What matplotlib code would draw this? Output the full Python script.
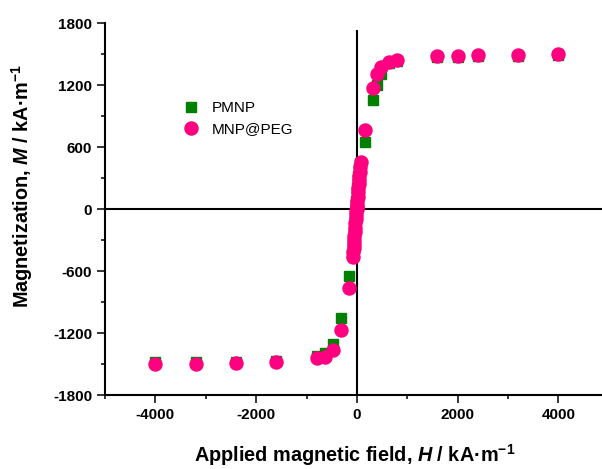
import matplotlib
matplotlib.use('Agg')
import matplotlib.pyplot as plt
from matplotlib.ticker import MultipleLocator

# 数据 (H / kA·m-1, M / kA·m-1)
H_pmnp = [-4000, -3200, -2400, -1600, -800, -640, -480, -320, -160,
          -90, -83, -76, -70, -63, -57, -51, -45, -39, -32, -26, -20, -14, -8, -2, 4, 10, 16, 23, 30, 37, 45, 54, 62,
          160, 320, 400, 480, 640, 800, 1600, 2000, 2400, 3200, 4000]
M_pmnp = [-1485, -1483, -1480, -1470, -1422, -1397, -1306, -1052, -645,
          -440, -400, -360, -320, -280, -240, -200, -160, -120, -80, -40, 0, 40, 80, 120, 160, 200, 240, 280, 320, 360, 400, 430, 445,
          651, 1055, 1200, 1306, 1410, 1432, 1470, 1473, 1476, 1482, 1488]

H_peg = [-4000, -3200, -2400, -1600, -800, -640, -480, -320, -160,
         -80, -73, -66, -60, -54, -48, -42, -36, -30, -24, -18, -12, -6, 0, 6, 12, 18, 24, 30, 36, 43, 50, 58, 66, 72,
         160, 320, 400, 480, 640, 800, 1600, 2000, 2400, 3200, 4000]
M_peg = [-1500, -1498, -1495, -1480, -1445, -1429, -1365, -1171, -761,
         -462, -420, -380, -340, -300, -260, -220, -180, -140, -100, -60, -20, 20, 0, 40, 80, 120, 160, 200, 240, 280, 320, 360, 410, 455,
         765, 1174, 1306, 1377, 1426, 1442, 1480, 1483, 1487, 1495, 1498]

plt.rcParams['font.family'] = ['Liberation Sans', 'DejaVu Sans']
plt.rcParams['axes.unicode_minus'] = False
plt.rcParams['mathtext.fontset'] = 'custom'
plt.rcParams['mathtext.rm'] = 'Liberation Sans:bold'
plt.rcParams['mathtext.bf'] = 'Liberation Sans:bold'
plt.rcParams['mathtext.it'] = 'Liberation Sans:italic:bold'

W, Hpx = 602, 469
fig = plt.figure(figsize=(W / 100, Hpx / 100), dpi=100)
ax = fig.add_axes([105 / W, 1 - 395 / Hpx, (608.75 - 105) / W, (395 - 23) / Hpx])

ax.plot(H_pmnp, M_pmnp, ls='none', marker='s', ms=7.2, color='#008000', mec='#008000',
        label='PMNP', zorder=3)
ax.plot(H_peg, M_peg, ls='none', marker='o', ms=9.4, color='#ff0080', mec='#ff0080',
        label='MNP@PEG', zorder=4)

ax.axhline(0, color='black', lw=1.5, zorder=2)
ax.axvline(0, ymax=(1725 + 1800) / 3600, color='black', lw=1.5, zorder=2)

ax.set_xlim(-5000, 5000)
ax.set_ylim(-1800, 1800)
ax.xaxis.set_major_locator(MultipleLocator(2000))
ax.xaxis.set_minor_locator(MultipleLocator(1000))
ax.yaxis.set_major_locator(MultipleLocator(600))
ax.yaxis.set_minor_locator(MultipleLocator(300))

for s in ['top', 'right']:
    ax.spines[s].set_visible(False)
for s in ['left', 'bottom']:
    ax.spines[s].set_linewidth(1.5)

ax.tick_params(which='major', direction='out', length=5.8, width=1.1, labelsize=11, pad=3.5)
ax.tick_params(which='minor', direction='out', length=2.9, width=1.1)
for lab in ax.get_xticklabels() + ax.get_yticklabels():
    lab.set_fontweight('bold')

fig.text(22 / W, 1 - 186 / Hpx, r'Magnetization, $\mathit{M}$ / kA·m$^{-1}$',
         rotation=90, ha='center', va='center', fontsize=14.3, fontweight='bold')
fig.text(355 / W, 1 - 455 / Hpx, r'Applied magnetic field, $\mathit{H}$ / kA·m$^{-1}$',
         ha='center', va='center', fontsize=14.3, fontweight='bold')

ax.legend(loc='upper left', bbox_to_anchor=(183.4 / W, 1 - 101 / Hpx), bbox_transform=fig.transFigure,
          frameon=False, fontsize=11, borderpad=0, handlelength=1.0, handletextpad=0.87,
          labelspacing=0.48, borderaxespad=0)

fig.savefig('out.png', dpi=100)
